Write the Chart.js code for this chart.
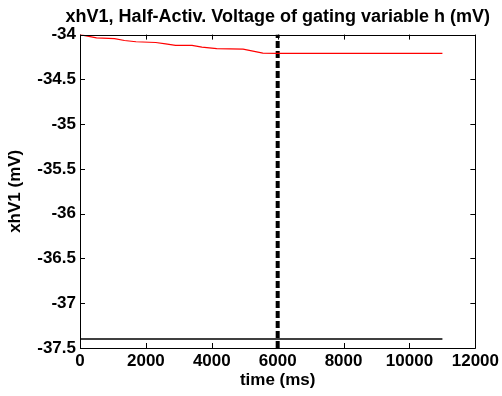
<!DOCTYPE html>
<html><head><meta charset="utf-8">
<script src="https://cdn.jsdelivr.net/npm/chart.js@4"></script>
<style>html,body{margin:0;padding:0;background:#fff}#wrap{width:502px;height:396px}</style>
</head><body><div id="wrap"><canvas id="c" width="502" height="396"></canvas></div>
<script>
const titleText = 'xhV1, Half-Activ. Voltage of gating variable h (mV)';
const xLabel = 'time (ms)';
const yLabel = 'xhV1 (mV)';
const xTicks = [0, 2000, 4000, 6000, 8000, 10000, 12000];
const yTicks = [-37.5, -37, -36.5, -36, -35.5, -35, -34.5, -34];
const redTimes = [0, 150, 500, 1050, 1350, 1700, 2300, 2600, 2900, 3400, 3700, 4150, 4950, 5550, 6000, 11000];
const redValues = [-34.0, -34.012, -34.036, -34.045, -34.066, -34.080, -34.088, -34.103, -34.120, -34.121, -34.140, -34.156, -34.163, -34.207, -34.21, -34.21];
const baseTimes = [0, 11000];
const baseValues = [-37.4, -37.4];
const markerTimes = [6000, 6000];
const markerValues = [-37.5, -34];

const FONT = "'Liberation Sans', Arial, sans-serif";
const pts = (xs, ys) => xs.map((x, i) => ({x, y: ys[i]}));

const frameTicks = {
  id: 'frameTicks',
  afterDatasetsDraw(chart) {
    const {ctx, chartArea: a, scales: {x, y}} = chart;
    const L = 5;
    ctx.save();
    ctx.strokeStyle = '#000';
    ctx.lineWidth = 1;
    ctx.beginPath();
    ctx.rect(Math.round(a.left) + 0.5, Math.round(a.top) + 0.5, Math.round(a.right - a.left), Math.round(a.bottom - a.top));
    xTicks.forEach(v => {
      const px = Math.round(x.getPixelForValue(v)) + 0.5;
      ctx.moveTo(px, a.bottom); ctx.lineTo(px, a.bottom - L);
      ctx.moveTo(px, a.top); ctx.lineTo(px, a.top + L);
    });
    yTicks.forEach(v => {
      const py = Math.round(y.getPixelForValue(v)) + 0.5;
      ctx.moveTo(a.left, py); ctx.lineTo(a.left + L, py);
      ctx.moveTo(a.right, py); ctx.lineTo(a.right - L, py);
    });
    ctx.stroke();
    ctx.restore();
  }
};

new Chart(document.getElementById('c'), {
  type: 'line',
  data: {
    datasets: [
      {data: pts(baseTimes, baseValues), borderColor: '#000', borderWidth: 1.4, pointRadius: 0, tension: 0},
      {data: pts(redTimes, redValues), borderColor: 'rgb(255,0,0)', borderWidth: 1.2, pointRadius: 0, tension: 0},
      {data: pts(markerTimes, markerValues), borderColor: '#000', borderWidth: 4, borderDash: [7, 3], pointRadius: 0, tension: 0}
    ]
  },
  options: {
    responsive: false,
    animation: false,
    devicePixelRatio: 1,
    layout: {padding: {left: 0, right: 12, top: 0, bottom: 0}},
    plugins: {
      legend: {display: false},
      tooltip: {enabled: false},
      title: {
        display: true, text: titleText, fullSize: true, align: 'end', color: '#000',
        font: {family: FONT, size: 18, weight: 'bold'},
        padding: {top: 6, bottom: 7}
      }
    },
    scales: {
      x: {
        type: 'linear', min: 0, max: 12000,
        afterBuildTicks: s => { s.ticks = xTicks.map(v => ({value: v})); },
        afterFit: s => { s.height = 48; },
        grid: {display: false, drawTicks: false},
        border: {display: false},
        ticks: {color: '#000', padding: 3, maxRotation: 0, autoSkip: false,
          font: {family: FONT, size: 17, weight: 'bold'}, callback: v => String(v)},
        title: {display: true, text: xLabel, color: '#000', padding: {top: 0, bottom: 5},
          font: {family: FONT, size: 17, weight: 'bold'}}
      },
      y: {
        type: 'linear', min: -37.5, max: -34,
        afterBuildTicks: s => { s.ticks = yTicks.map(v => ({value: v})); },
        afterFit: s => { s.width = 80; },
        grid: {display: false, drawTicks: false},
        border: {display: false},
        ticks: {color: '#000', padding: 4, autoSkip: false,
          font: {family: FONT, size: 17, weight: 'bold'}, callback: v => String(v)},
        title: {display: true, text: yLabel, color: '#000', padding: {top: 5, bottom: 0},
          font: {family: FONT, size: 17, weight: 'bold'}}
      },
      yRight: {
        type: 'linear', position: 'right', min: -37.5, max: -34,
        afterFit: s => { s.width = 13; },
        grid: {display: false, drawTicks: false},
        border: {display: false},
        ticks: {display: false}
      }
    }
  },
  plugins: [frameTicks]
});
</script>
</body></html>
